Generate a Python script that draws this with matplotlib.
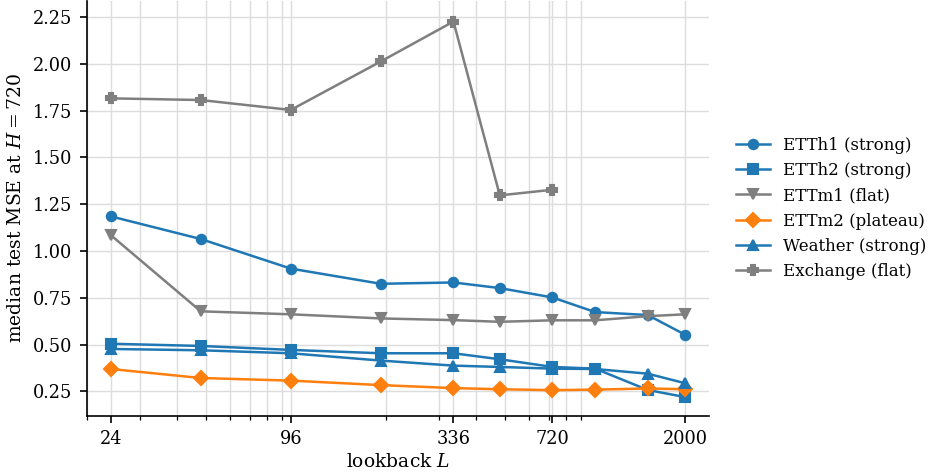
import matplotlib
matplotlib.use("Agg")
import matplotlib.pyplot as plt
from matplotlib.ticker import FixedLocator, FixedFormatter, NullFormatter, LogLocator

plt.rcParams['font.family'] = ['DejaVu Serif']
plt.rcParams['mathtext.fontset'] = 'dejavuserif'
plt.rcParams['font.size'] = 8.5

lookbacks = [24, 48, 96, 192, 336, 480, 720, 1000, 1500, 2000]
exchange_lookbacks = [24, 48, 96, 192, 336, 480, 720]

etth1 = [1.185, 1.064, 0.906, 0.825, 0.832, 0.802, 0.752, 0.674, 0.658, 0.553]
etth2 = [0.505, 0.493, 0.472, 0.454, 0.454, 0.422, 0.381, 0.372, 0.258, 0.220]
ettm1 = [1.085, 0.678, 0.662, 0.640, 0.631, 0.622, 0.630, 0.630, 0.652, 0.662]
ettm2 = [0.370, 0.322, 0.308, 0.284, 0.268, 0.262, 0.257, 0.260, 0.266, 0.262]
weather = [0.477, 0.470, 0.454, 0.415, 0.388, 0.381, 0.372, 0.370, 0.345, 0.294]
exchange = [1.815, 1.806, 1.753, 2.012, 2.225, 1.297, 1.327]

xticks = [24, 96, 336, 720, 2000]
xtick_labels = ["24", "96", "336", "720", "2000"]

series = [
    ("ETTh1 (strong)", lookbacks, etth1, "#1f77b4", "o"),
    ("ETTh2 (strong)", lookbacks, etth2, "#1f77b4", "s"),
    ("ETTm1 (flat)", lookbacks, ettm1, "#7f7f7f", "v"),
    ("ETTm2 (plateau)", lookbacks, ettm2, "#ff7f0e", "D"),
    ("Weather (strong)", lookbacks, weather, "#1f77b4", "^"),
    ("Exchange (flat)", exchange_lookbacks, exchange, "#7f7f7f", "P"),
]

fig = plt.figure(figsize=(929 / 150, 472 / 150), dpi=150)
ax = fig.add_axes([0.0937, 0.119, 0.763 - 0.0937, 0.879])

for label, xs, ys, color, marker in series:
    ax.plot(xs, ys, color=color, marker=marker, lw=1.2, ms=4.5, label=label)

ax.set_xscale('log')
ax.set_xlim(20, 2400)
ax.xaxis.set_major_locator(FixedLocator(xticks))
ax.xaxis.set_major_formatter(FixedFormatter(xtick_labels))
ax.xaxis.set_minor_locator(LogLocator(base=10, subs='auto'))
ax.xaxis.set_minor_formatter(NullFormatter())
ax.set_yticks([0.25, 0.5, 0.75, 1.0, 1.25, 1.5, 1.75, 2.0, 2.25])
ax.set_ylim(0.12, 2.335)
ax.tick_params(labelsize=8.5)

ax.grid(True, which='major', color='#dddddd', lw=0.7)
ax.grid(True, which='minor', axis='x', color='#dddddd', lw=0.7)
ax.set_axisbelow(True)
for s in ['top', 'right']:
    ax.spines[s].set_visible(False)

ax.set_xlabel(r"lookback $L$", fontsize=9, labelpad=2)
ax.set_ylabel(r"median test MSE at $H = 720$", fontsize=9)

ax.legend(loc='center left', bbox_to_anchor=(1.02, 0.5), frameon=False, fontsize=8)

fig.savefig("out.png", dpi=150)
